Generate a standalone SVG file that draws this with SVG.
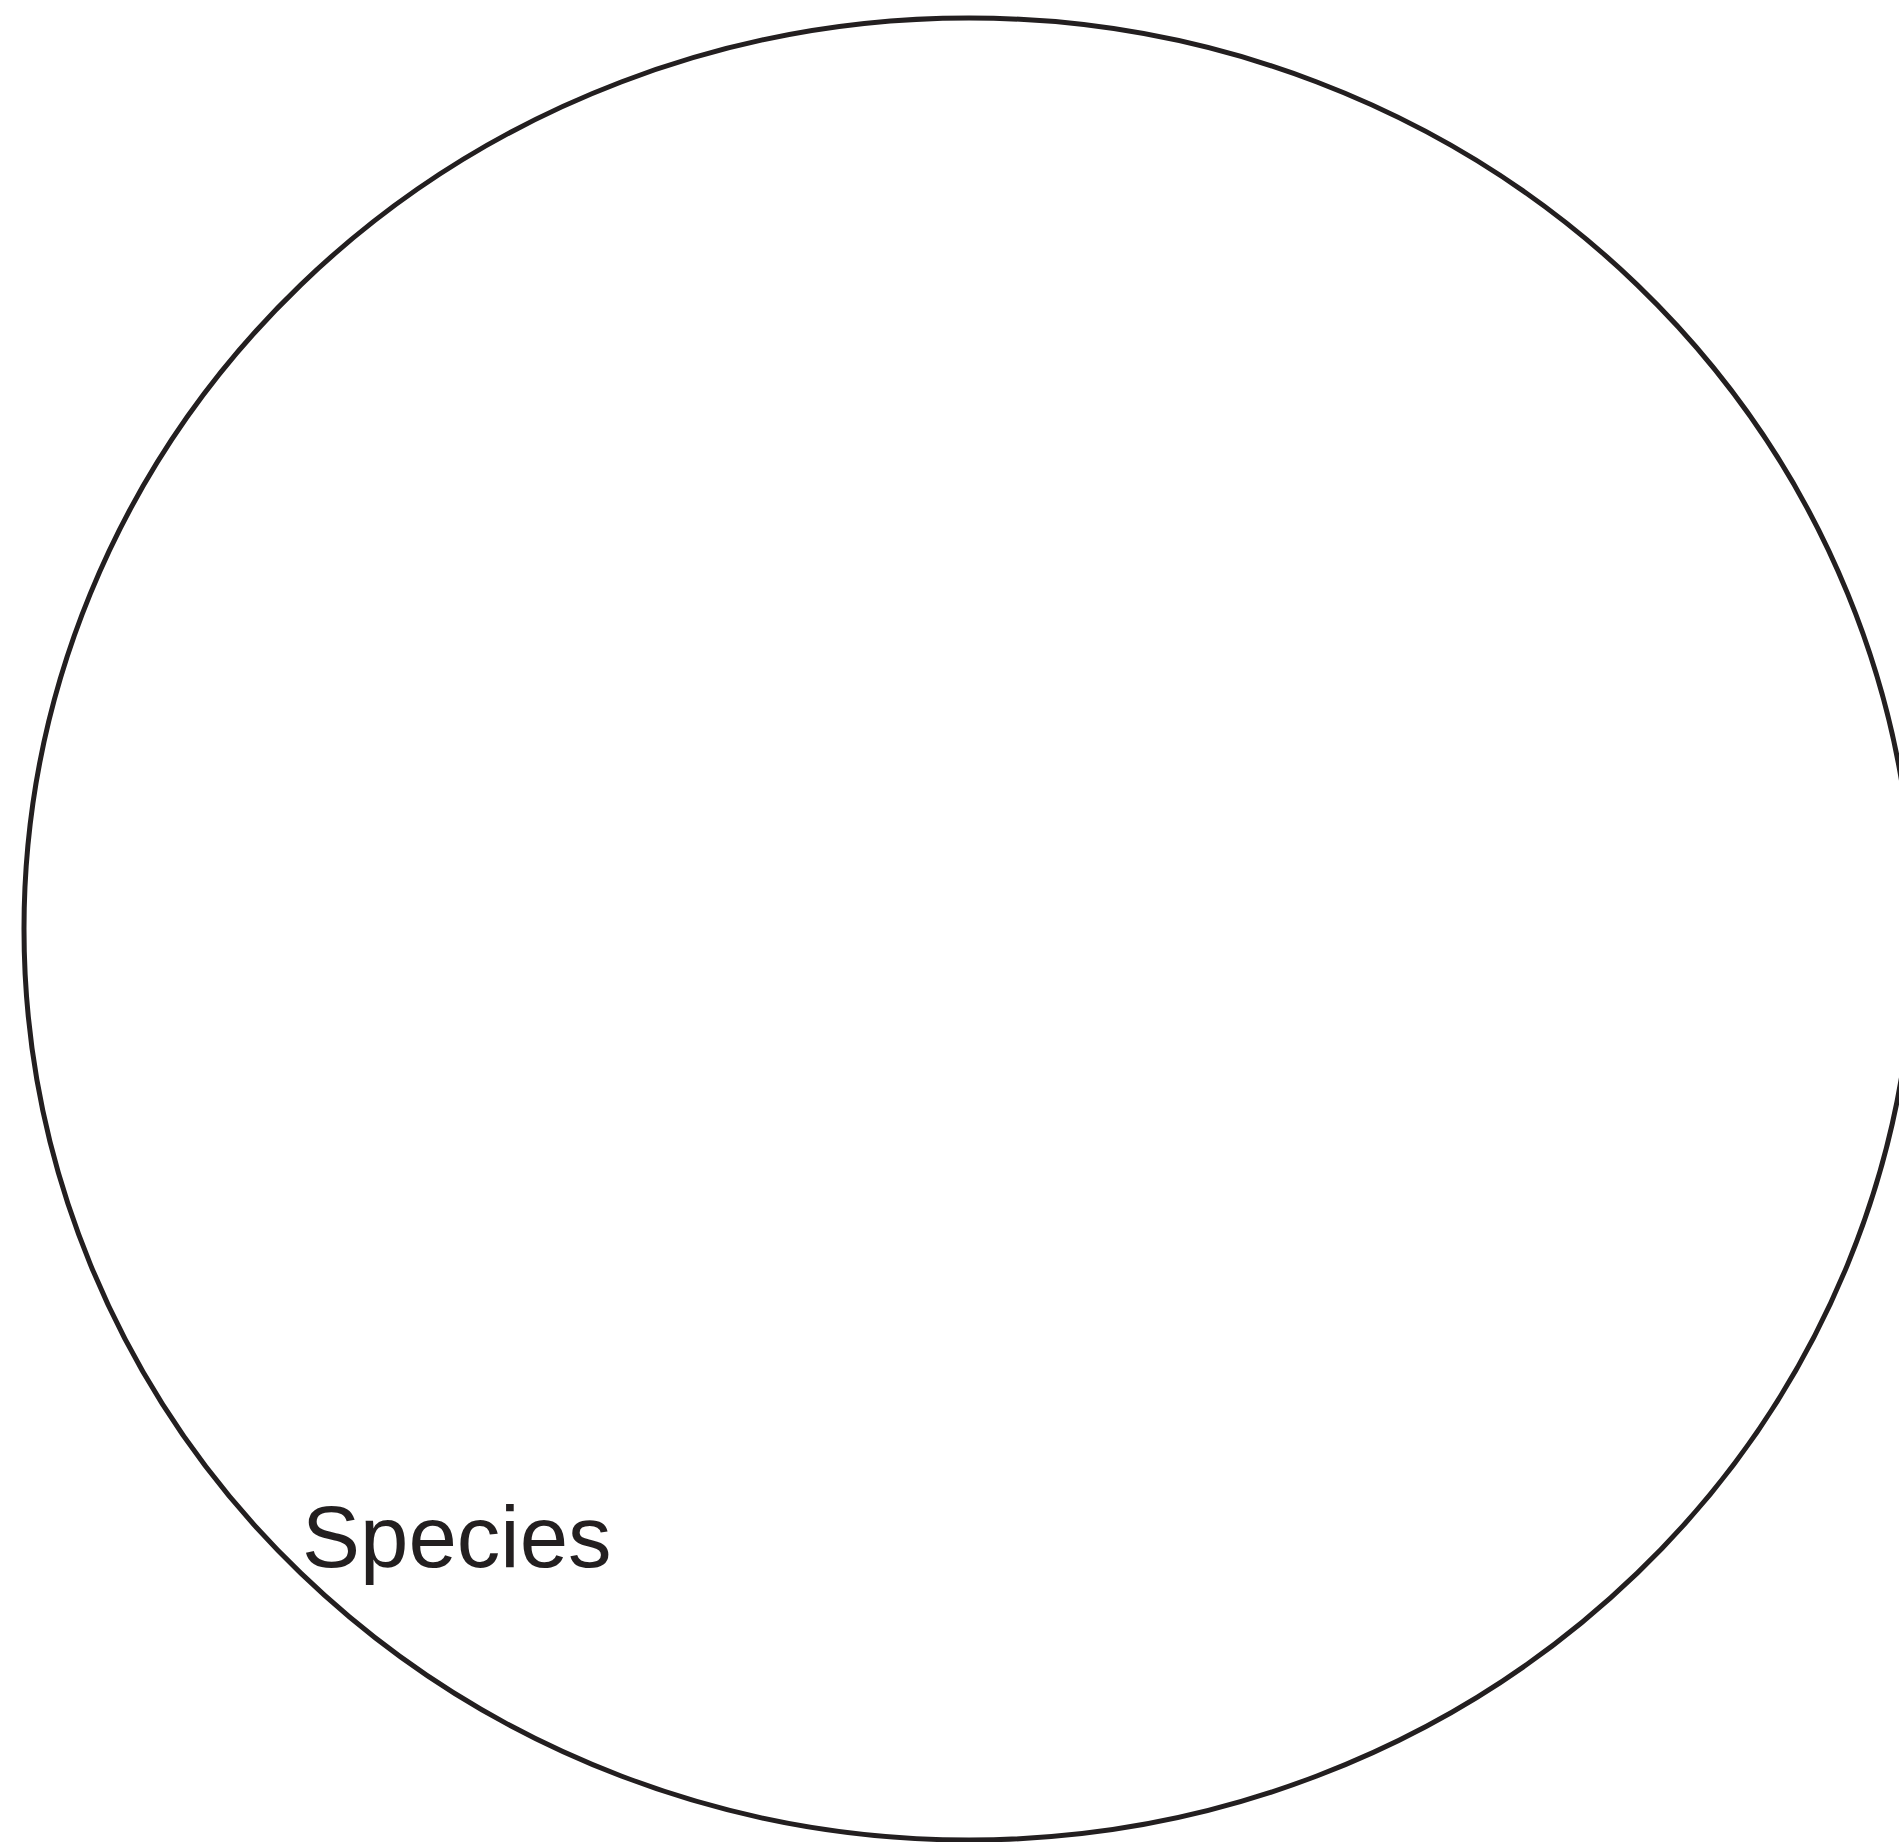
<svg xmlns="http://www.w3.org/2000/svg" width="1899" height="1842" viewBox="0 0 1899 1842">
<style>
.outline{fill:none;stroke:#231f20;stroke-width:5}
.label{font-family:"Liberation Sans",Arial,sans-serif;font-size:87px;fill:#231f20}
</style>
<rect width="1899" height="1842" fill="#ffffff"/>
<g id="species">
<ellipse class="outline" cx="969" cy="929" rx="945" ry="911"/>
<text class="label" x="302" y="1567">Species</text>
</g>
</svg>
